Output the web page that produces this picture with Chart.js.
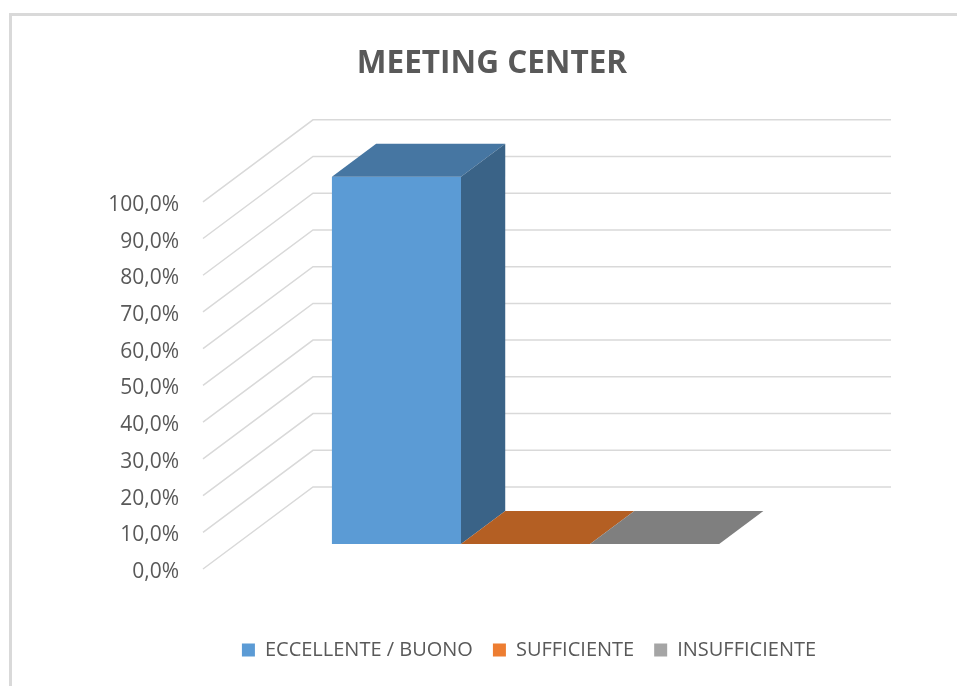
<!DOCTYPE html>
<html>
<head>
<meta charset="utf-8">
<script src="https://cdn.jsdelivr.net/npm/chart.js@4.4.0/dist/chart.umd.min.js"></script>
<style>
  html, body { margin: 0; padding: 0; background: #fff; overflow: hidden; }
  #wrap { width: 957px; height: 686px; position: relative; }
</style>
</head>
<body>
<div id="wrap"><canvas id="chart"></canvas></div>
<script>
const chartTitle = 'MEETING CENTER';
const seriesNames = ['ECCELLENTE / BUONO', 'SUFFICIENTE', 'INSUFFICIENTE'];
const seriesValues = [100, 0, 0];
const frontColors = ['#5B9BD5', '#ED7D31', '#A5A5A5'];
const topColors = ['#4676A2', '#B45F23', '#7F7F7F'];
const sideColors = ['#3A6387', '#8E4A1C', '#666666'];

// fake 3D: back wall offset and where the bars sit in depth
const WALL = { dx: 110, dy: -82 };
const BAR_FRONT = 0.305;
const BAR_BACK = 0.707;
const LEGEND_CENTER_X = 529;

const pct = (v) => v.toFixed(1).replace('.', ',') + '%';

const threeD = {
  id: 'threeD',
  beforeDraw(chart) {
    const ctx = chart.ctx;
    ctx.save();
    ctx.strokeStyle = '#d9d9d9';
    ctx.lineWidth = 3;
    ctx.strokeRect(10.5, 14.5, 2000, 2000);
    ctx.restore();
  },
  afterLayout(chart) {
    const lg = chart.legend;
    const half = (lg.right - lg.left) / 2;
    lg.left = LEGEND_CENTER_X - half;
    lg.right = LEGEND_CENTER_X + half;
    lg.top -= 16;
    lg.bottom -= 16;
  },
  beforeDatasetsDraw(chart) {
    const { ctx, chartArea: a, scales: { y } } = chart;
    ctx.save();
    ctx.strokeStyle = '#d9d9d9';
    ctx.lineWidth = 1.5;
    y.ticks.forEach(t => {
      const py = y.getPixelForValue(t.value);
      ctx.beginPath();
      ctx.moveTo(a.left, py);
      ctx.lineTo(a.left + WALL.dx, py + WALL.dy);
      ctx.lineTo(a.right + WALL.dx, py + WALL.dy);
      ctx.stroke();
    });
    ctx.restore();
    ctx.save();
    ctx.translate(WALL.dx * BAR_FRONT, WALL.dy * BAR_FRONT);
  },
  afterDatasetsDraw(chart) {
    const ctx = chart.ctx;
    const dx = WALL.dx * (BAR_BACK - BAR_FRONT);
    const dy = WALL.dy * (BAR_BACK - BAR_FRONT);
    chart.data.datasets.forEach((ds, i) => {
      const bar = chart.getDatasetMeta(i).data[0];
      const { x, y, base, width } = bar.getProps(['x', 'y', 'base', 'width'], true);
      const x0 = x - width / 2, x1 = x + width / 2;
      ctx.fillStyle = topColors[i];
      ctx.beginPath();
      ctx.moveTo(x0, y);
      ctx.lineTo(x0 + dx, y + dy);
      ctx.lineTo(x1 + dx, y + dy);
      ctx.lineTo(x1, y);
      ctx.closePath();
      ctx.fill();
      if (base - y > 0.5) {
        ctx.fillStyle = sideColors[i];
        ctx.beginPath();
        ctx.moveTo(x1, y);
        ctx.lineTo(x1 + dx, y + dy);
        ctx.lineTo(x1 + dx, base + dy);
        ctx.lineTo(x1, base);
        ctx.closePath();
        ctx.fill();
      }
    });
    ctx.restore();
  }
};

Chart.defaults.font.family = "'Open Sans', sans-serif";
Chart.defaults.color = '#595959';

new Chart(document.getElementById('chart'), {
  type: 'bar',
  data: {
    labels: [''],
    datasets: seriesNames.map((name, i) => ({
      label: name,
      data: [seriesValues[i]],
      backgroundColor: frontColors[i],
      borderWidth: 0,
      clip: false,
    }))
  },
  options: {
    responsive: true,
    maintainAspectRatio: false,
    animation: false,
    categoryPercentage: 0.67,
    barPercentage: 1,
    layout: { padding: { left: 0, right: 176, top: 0, bottom: 0 } },
    scales: {
      x: {
        grid: { display: false, drawTicks: false },
        border: { display: false },
        ticks: { display: false },
        afterFit: (s) => { s.height = 67; },
      },
      y: {
        min: 0,
        max: 100,
        grid: { display: false, drawTicks: false },
        border: { display: false },
        ticks: {
          stepSize: 10,
          padding: 24,
          labelOffset: 3,
          font: { size: 21 },
          color: '#595959',
          callback: (v) => pct(v),
        },
        afterFit: (s) => { s.width = 203; },
      }
    },
    plugins: {
      title: {
        display: true,
        text: chartTitle,
        fullSize: false,
        color: '#595959',
        font: { size: 31.5, weight: 'bold' },
        padding: { top: 45, bottom: 119 },
      },
      legend: {
        position: 'bottom',
        labels: {
          boxWidth: 13,
          boxHeight: 13,
          padding: 20,
          color: '#595959',
          font: { size: 20 },
        }
      },
      tooltip: { enabled: false },
    }
  },
  plugins: [threeD]
});
</script>
</body>
</html>
